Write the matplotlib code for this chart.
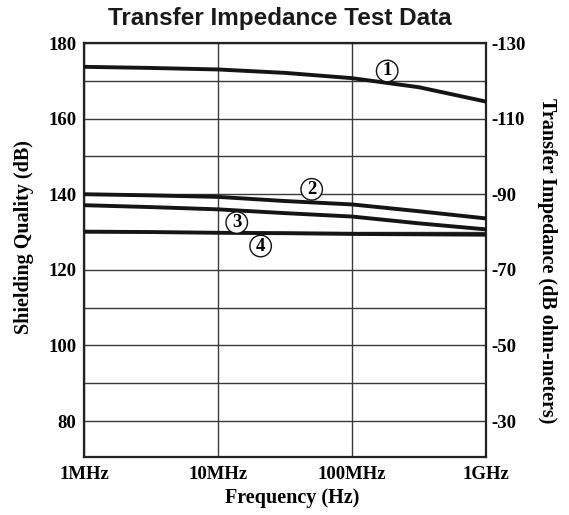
import numpy as np
import matplotlib
matplotlib.use("Agg")
import matplotlib.pyplot as plt

freq = [1e6, 3.16e6, 1e7, 3.16e7, 1e8, 3.16e8, 1e9]
curve1 = [173.7, 173.4, 173.0, 172.1, 170.7, 168.3, 164.5]
curve2 = [140.0, 139.7, 139.3, 138.2, 137.3, 135.5, 133.6]
curve3 = [137.1, 136.6, 136.0, 135.0, 134.1, 132.3, 130.7]
curve4 = [130.1, 130.0, 129.8, 129.7, 129.5, 129.4, 129.3]
labels = ["1", "2", "3", "4"]
label_pos = [(1.83e8, 172.6), (5.0e7, 141.3), (1.38e7, 132.5), (2.08e7, 126.3)]

xticks = [1e6, 1e7, 1e8, 1e9]
xticklabels = ["1MHz", "10MHz", "100MHz", "1GHz"]
yticks_left = [80, 100, 120, 140, 160, 180]
yticks_right = [-130, -110, -90, -70, -50, -30]
yticklabels_right = ["-130", "-110", "-90", "-70", "-50", "-30"]

serif = "Liberation Serif"
tick_fs = 13.5

fig = plt.figure(figsize=(5.69, 5.15), dpi=100)
ax = fig.add_axes([84 / 569, 1 - 457 / 515, 402 / 569, 414 / 515])

for c in (curve1, curve2, curve3, curve4):
    ax.plot(freq, c, color="#151515", lw=2.8, solid_capstyle="butt", zorder=3)

ax.set_xscale("log")
ax.set_xlim(1e6, 1e9)
ax.set_ylim(70.5, 180)
ax.set_xticks(xticks)
ax.set_xticklabels(xticklabels)
ax.xaxis.set_minor_locator(matplotlib.ticker.NullLocator())
ax.set_yticks(yticks_left)
ax.set_yticks(np.arange(80, 181, 10), minor=True)
ax.grid(True, which="major", axis="both", color="#3a3a3a", lw=1.0)
ax.grid(True, which="minor", axis="y", color="#3a3a3a", lw=1.0)
ax.tick_params(which="both", length=0)
ax.tick_params(axis="y", pad=5.5)
ax.tick_params(axis="x", pad=6.5)
for lab in ax.get_xticklabels() + ax.get_yticklabels():
    lab.set_fontfamily(serif)
    lab.set_fontweight("bold")
    lab.set_fontsize(tick_fs)
for s in ax.spines.values():
    s.set_linewidth(1.6)
    s.set_color("#222222")

ax2 = ax.twinx()
ax2.set_ylim(50 - 70.5, 50 - 180)
ax2.set_yticks(yticks_right)
ax2.set_yticklabels(yticklabels_right)
ax2.tick_params(length=0, pad=4)
for lab in ax2.get_yticklabels():
    lab.set_fontfamily(serif)
    lab.set_fontweight("bold")
    lab.set_fontsize(tick_fs)
for s in ax2.spines.values():
    s.set_visible(False)

label_fs = 14.5
fig.text(292 / 569, 1 - 502.7 / 515, "Frequency (Hz)", fontfamily=serif, fontweight="bold",
         fontsize=label_fs, ha="center", va="baseline")
fig.text(24.5 / 569, 1 - 237.5 / 515, "Shielding Quality (dB)", fontfamily=serif,
         fontweight="bold", fontsize=label_fs, rotation=90, ha="center", va="center")
fig.text(547 / 569, 1 - 260.5 / 515, "Transfer Impedance (dB ohm-meters)", fontfamily=serif,
         fontweight="bold", fontsize=label_fs, rotation=270, ha="center", va="center")

for t, (x, y) in zip(labels, label_pos):
    ax.text(x, y, t, fontfamily=serif, fontweight="bold", fontsize=13.5, ha="center", va="center",
            zorder=5,
            bbox=dict(boxstyle="circle,pad=0.12", fc="white", ec="#111111", lw=1.0))

fig.text(280 / 569, 1 - 25 / 515, "Transfer Impedance Test Data", fontfamily="Liberation Sans",
         fontweight="bold", fontsize=17.5, ha="center", va="baseline", color="#1a1a1a")

fig.savefig("out.png", dpi=100)
